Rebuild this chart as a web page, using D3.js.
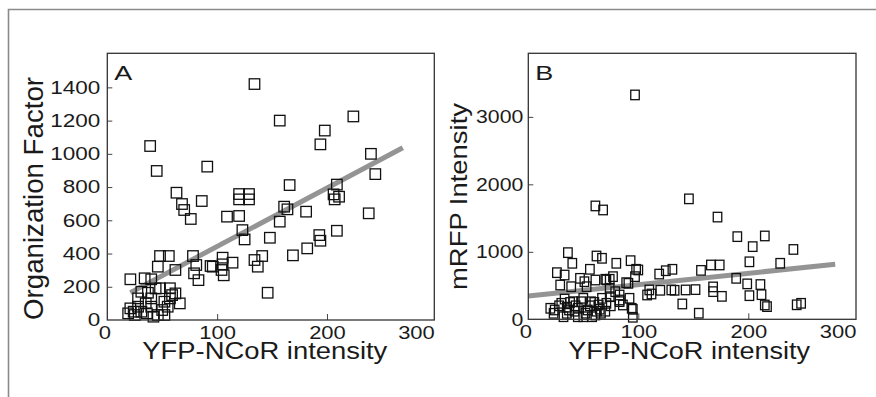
<!DOCTYPE html>
<html>
<head>
<meta charset="utf-8">
<script src="https://cdn.jsdelivr.net/npm/d3@7"></script>
<style>
  body { margin: 0; background: #fff; }
  svg { display: block; font-family: "Liberation Sans", Arial, Helvetica, sans-serif; }
</style>
</head>
<body>
<svg id="fig" width="876" height="397"></svg>
<script>
// ---- data ----
// Panel A: YFP-NCoR intensity vs Organization Factor
const xA = [134,157,224,198,194,39,45,91,240,244,166,209,63,68,70,76,86,120,120,129,129,109,120,123,125,148,
  157,161,164,181,206,207,211,238,209,193,194,182,169,146,141,134,137,114,105,105,106,96,78,81,79,83,62,48,56,46,
  21,34,40,48,57,59,66,52,37,28,21,25,31,40,46,52,62,57,40,35,19,28,104,94,31,44,50,55,24,36,42];
const yA = [1420,1200,1225,1140,1057,1047,897,923,1000,878,812,815,766,698,662,608,716,758,726,758,726,622,626,541,485,495,
  592,682,666,652,756,726,742,642,537,511,477,431,389,164,385,361,321,345,375,335,269,321,385,331,281,240,301,385,385,321,
  245,251,245,191,191,150,100,110,164,130,70,30,50,80,30,30,160,130,130,100,40,80,301,325,170,190,60,80,50,40,20];
const fitAX = [21, 269];
const fitAY = [165, 1037];

// Panel B: YFP-NCoR intensity vs mRFP intensity
const xB = [97,61,68,146,172,190,215,204,241,201,229,174,166,157,131,125,119,189,199,211,201,212,215,217,244,248,176,168,
  168,155,140,110,120,130,133,143,152,108,112,100,93,97,91,92,95,83,83,80,77,71,67,62,36,40,26,33,47,56,98,74,70,89,61,
  51,39,29,20,24,30,32,37,41,45,50,54,58,61,64,67,71,74,79,83,86,94,95,53,74,23,35,50,45,28,33,38,43,48,56,60,65,70,75,
  35,42,52,57,62,66];
const yB = [3325,1680,1620,1785,1515,1225,1235,1077,1035,852,830,805,805,725,741,720,670,607,525,515,350,365,212,188,215,237,
  340,480,410,90,227,435,430,435,430,435,440,360,375,731,869,632,533,311,148,262,360,830,632,583,904,938,988,830,691,656,
  607,741,741,593,593,543,582,557,483,508,163,138,237,38,138,261,163,311,138,38,64,212,311,237,335,409,286,212,163,30,483,
  459,89,89,38,38,200,300,250,200,260,200,250,150,120,200,180,120,90,260,120,90];
const fitBX = [0, 279];
const fitBY = [345, 815];

const xTicks = [0, 100, 200, 300];
const yTicksA = [0, 200, 400, 600, 800, 1000, 1200, 1400];
const yTicksB = [0, 1000, 2000, 3000];
const xTitle = 'YFP-NCoR intensity';

// ---- drawing ----
const svg = d3.select('#fig');

// outer figure border (top + left edge)
svg.append('path')
    .attr('d', 'M8.5,397V9.5H876')
    .attr('fill', 'none')
    .attr('stroke', '#8a8a8a')
    .attr('stroke-width', 1.6);

function stretchText(sel, factor) {
    sel.each(function() {
        let w = this.getComputedTextLength();
        d3.select(this)
            .attr('textLength', w * factor)
            .attr('lengthAdjust', 'spacingAndGlyphs');
    });
}

function drawPanel(p) {
    let x = d3.scaleLinear().domain(p.xDomain).range([p.left, p.right]);
    let y = d3.scaleLinear().domain(p.yDomain).range([p.bottom, p.top]);
    let g = svg.append('g');

    // regression line
    g.append('line')
        .attr('x1', x(p.fitX[0])).attr('y1', y(p.fitY[0]))
        .attr('x2', x(p.fitX[1])).attr('y2', y(p.fitY[1]))
        .attr('stroke', '#949494')
        .attr('stroke-width', 5);

    // square markers
    let pts = d3.zip(p.xs, p.ys);
    g.selectAll('rect.pt')
        .data(pts)
      .enter().append('rect')
        .attr('class', 'pt')
        .attr('x', d => x(d[0]) - p.mw / 2)
        .attr('y', d => y(d[1]) - p.mh / 2)
        .attr('width', p.mw)
        .attr('height', p.mh)
        .attr('fill', 'none')
        .attr('stroke', '#111')
        .attr('stroke-width', 1.3);

    // axes, ticks pointing inward
    let fmt = d3.format('d');
    let xAxis = d3.axisBottom(x).tickValues(xTicks).tickFormat(fmt)
        .tickSizeInner(-6).tickSizeOuter(0).tickPadding(6);
    let gx = g.append('g')
        .attr('transform', `translate(0,${p.bottom})`)
        .call(xAxis);
    let yAxis = d3.axisLeft(y).tickValues(p.yTicks).tickFormat(fmt)
        .tickSizeInner(-5).tickSizeOuter(0).tickPadding(p.yPad);
    let gy = g.append('g')
        .attr('transform', `translate(${p.left},0)`)
        .call(yAxis);

    [gx, gy].forEach(a => {
        a.attr('font-family', null).attr('font-size', null);
        a.select('.domain').remove();
        a.selectAll('.tick line').attr('stroke', '#444');
        a.selectAll('.tick text')
            .attr('fill', '#1a1a1a')
            .style('font-size', '18px');
    });
    // first/last x ticks sit on the frame: no tick mark, last label kept inside
    gx.selectAll('.tick').filter(d => d === 0 || d === 300).select('line').remove();
    gx.selectAll('.tick').filter(d => d === 300).select('text')
        .attr('text-anchor', 'end')
        .attr('x', p.right - x(300));
    gx.selectAll('.tick').filter(d => d === 0).select('text').attr('x', -3);
    gy.selectAll('.tick').filter(d => d === 0).select('line').remove();
    stretchText(gx.selectAll('.tick text'), 1.22);
    stretchText(gy.selectAll('.tick text'), p.yStretch);

    // frame
    g.append('rect')
        .attr('x', p.left).attr('y', p.top)
        .attr('width', p.right - p.left).attr('height', p.bottom - p.top)
        .attr('fill', 'none')
        .attr('stroke', '#333')
        .attr('stroke-width', 1.3);

    // axis titles
    g.append('text')
        .attr('x', (p.left + p.right) / 2 + p.xTitleDx)
        .attr('y', 359)
        .attr('text-anchor', 'middle')
        .attr('fill', '#1a1a1a')
        .style('font-size', '23px')
        .attr('textLength', p.xTitleLen)
        .attr('lengthAdjust', 'spacingAndGlyphs')
        .text(xTitle);

    g.append('text')
        .attr('transform', `translate(${p.yTitleX},${p.yTitleY}) rotate(-90)`)
        .attr('text-anchor', 'middle')
        .attr('fill', '#1a1a1a')
        .style('font-size', p.yTitleSize + 'px')
        .attr('textLength', p.yTitleLen)
        .attr('lengthAdjust', 'spacingAndGlyphs')
        .text(p.yTitle);

    // panel letter
    g.append('text')
        .attr('x', p.left + 7)
        .attr('y', 80)
        .attr('fill', '#1a1a1a')
        .style('font-size', '21px')
        .attr('textLength', 18)
        .attr('lengthAdjust', 'spacingAndGlyphs')
        .text(p.letter);
}

drawPanel({
    left: 107.3, right: 434.3, top: 53.3, bottom: 320,
    xDomain: [0, 297.7], yDomain: [0, 1605],
    xs: xA, ys: yA, fitX: fitAX, fitY: fitAY,
    yTicks: yTicksA, yPad: 7, yStretch: 1.25,
    mw: 10.5, mh: 10.5,
    xTitleDx: -6, xTitleLen: 245,
    yTitle: 'Organization Factor', yTitleX: 43, yTitleY: 198.5, yTitleSize: 27, yTitleLen: 243,
    letter: 'A'
});

drawPanel({
    left: 528.3, right: 856, top: 53.3, bottom: 319.3,
    xDomain: [0, 297.9], yDomain: [0, 3942],
    xs: xB, ys: yB, fitX: fitBX, fitY: fitBY,
    yTicks: yTicksB, yPad: 5, yStretch: 1.18,
    mw: 8.5, mh: 9.5,
    xTitleDx: -3, xTitleLen: 242,
    yTitle: 'mRFP Intensity', yTitleX: 467, yTitleY: 196.5, yTitleSize: 24, yTitleLen: 187,
    letter: 'B'
});
</script>
</body>
</html>
